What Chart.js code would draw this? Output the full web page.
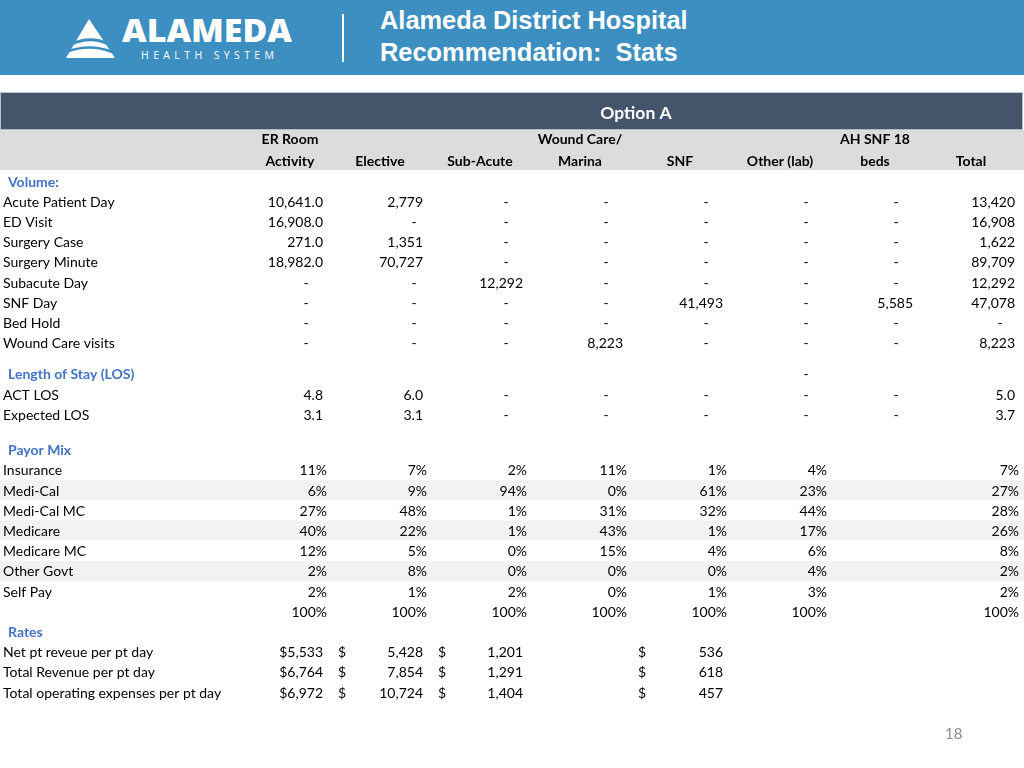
<!DOCTYPE html>
<html>
<head>
<meta charset="utf-8">
<script src="https://cdn.jsdelivr.net/npm/chart.js@4.4.1/dist/chart.umd.min.js"></script>
<style>
  html, body { margin: 0; padding: 0; background: #fff; }
  body { width: 1024px; height: 768px; position: relative; overflow: hidden; }
  #sheet { position: absolute; left: 0; top: 0; }
  #top { position: absolute; left: 0; top: 0; }
  #page { position: absolute; left: 945px; top: 724px; font: 15px Lato, sans-serif; color: #8c8c8c; }
</style>
</head>
<body>
<canvas id="sheet" width="1024" height="768"></canvas>
<svg id="top" width="1024" height="76" xmlns="http://www.w3.org/2000/svg">
  <rect width="1024" height="75" fill="#3d8fc1"/>
  <path d="M89 19 L115 58 L66 58 Z" fill="#fff"/>
  <path d="M70 45 Q90 35 108 44" stroke="#3d8fc1" stroke-width="3" fill="none"/>
  <path d="M66 52 Q90 43 112 52" stroke="#3d8fc1" stroke-width="2.5" fill="none"/>
  <text x="122" y="42" font-family="Open Sans" font-weight="800" font-size="31" fill="#fff"
        textLength="170" lengthAdjust="spacingAndGlyphs">ALAMEDA</text>
  <text x="141" y="58.5" font-family="Open Sans" font-size="10.5" fill="#fff"
        textLength="133">HEALTH SYSTEM</text>
  <rect x="342" y="14" width="2" height="48" fill="#fff"/>
  <text x="380" y="29" font-family="Liberation Sans" font-weight="bold" font-size="25.4" fill="#fff">Alameda District Hospital</text>
  <text x="380" y="61" font-family="Liberation Sans" font-weight="bold" font-size="25.4" fill="#fff"
        style="white-space:pre">Recommendation:  Stats</text>
</svg>
<div id="page">18</div>
<script>
// ---- table values ----
const colHead1 = ['ER Room', '', '', 'Wound Care/', '', '', 'AH SNF 18', ''];
const colHead2 = ['Activity', 'Elective', 'Sub-Acute', 'Marina', 'SNF', 'Other (lab)', 'beds', 'Total'];

const volumeLabels = ['Acute Patient Day', 'ED Visit', 'Surgery Case', 'Surgery Minute',
  'Subacute Day', 'SNF Day', 'Bed Hold', 'Wound Care visits'];
const volumeValues = [
  [10641.0, 2779, 0, 0, 0, 0, 0, 13420],
  [16908.0, 0, 0, 0, 0, 0, 0, 16908],
  [271.0, 1351, 0, 0, 0, 0, 0, 1622],
  [18982.0, 70727, 0, 0, 0, 0, 0, 89709],
  [0, 0, 12292, 0, 0, 0, 0, 12292],
  [0, 0, 0, 0, 41493, 0, 5585, 47078],
  [0, 0, 0, 0, 0, 0, 0, 0],
  [0, 0, 0, 8223, 0, 0, 0, 8223],
];

const losHeadValues = [null, null, null, null, null, 0, null, null];
const losLabels = ['ACT LOS', 'Expected LOS'];
const losValues = [
  [4.8, 6.0, 0, 0, 0, 0, 0, 5.0],
  [3.1, 3.1, 0, 0, 0, 0, 0, 3.7],
];

const payorLabels = ['Insurance', 'Medi-Cal', 'Medi-Cal MC', 'Medicare', 'Medicare MC', 'Other Govt', 'Self Pay'];
const payorValues = [
  [11, 7, 2, 11, 1, 4, null, 7],
  [6, 9, 94, 0, 61, 23, null, 27],
  [27, 48, 1, 31, 32, 44, null, 28],
  [40, 22, 1, 43, 1, 17, null, 26],
  [12, 5, 0, 15, 4, 6, null, 8],
  [2, 8, 0, 0, 0, 4, null, 2],
  [2, 1, 2, 0, 1, 3, null, 2],
];
const payorTotals = [100, 100, 100, 100, 100, 100, null, 100];

const rateLabels = ['Net pt reveue per pt day', 'Total Revenue per pt day', 'Total operating expenses per pt day'];
const rateValues = [
  [5533, 5428, 1201, null, 536, null, null, null],
  [6764, 7854, 1291, null, 618, null, null, null],
  [6972, 10724, 1404, null, 457, null, null, null],
];

// ---- layout (sheet geometry, px) ----
const ROW_PITCH = 20.2, FIRST_ROW_PX = 181;
const LABEL_W = 250;
const COL_W = [80, 100, 100, 100, 100, 100, 90, 102];
const DASH_PAD = [24, 16, 24, 24, 24, 24, 24, 22];
const TEXT_DY = 1; // Lato sits a touch high with 'middle' baseline
const FONT = 'Lato, "Open Sans", sans-serif';
const BLUE = '#4472c4';

const colLeft = [], colRight = [];
COL_W.reduce((acc, w) => { colLeft.push(acc); colRight.push(acc + w); return acc + w; }, LABEL_W);

const fmt0 = v => v.toLocaleString('en-US', { maximumFractionDigits: 0 });
const fmt1 = v => v.toLocaleString('en-US', { minimumFractionDigits: 1, maximumFractionDigits: 1 });

const rows = [];
let pos = 0;
function addRow(label, heading, cells, stripe) {
  rows.push({ pos, label, heading, cells, stripe: !!stripe });
  pos += 1;
}
const dash = { k: 'dash' };

addRow('Volume:', true, null);
volumeValues.forEach((vals, i) => addRow(volumeLabels[i], false,
  vals.map((v, c) => v === 0 ? dash : { k: 'num', t: c === 0 ? fmt1(v) : fmt0(v) })));

pos += 0.55;
addRow('Length of Stay (LOS)', true, losHeadValues.map(v => v === 0 ? dash : null));
losValues.forEach((vals, i) => addRow(losLabels[i], false,
  vals.map(v => v === 0 ? dash : { k: 'num', t: v.toFixed(1) })));

pos += 0.75;
addRow('Payor Mix', true, null);
payorValues.forEach((vals, i) => addRow(payorLabels[i], false,
  vals.map(v => v === null ? null : { k: 'pct', t: v + '%' }), i % 2 === 1));
addRow('', false, payorTotals.map(v => v === null ? null : { k: 'pct', t: v + '%' }));

addRow('Rates', true, null);
rateValues.forEach((vals, i) => addRow(rateLabels[i], false,
  vals.map((v, c) => v === null ? null : (c === 0 ? { k: 'num', t: '$' + fmt0(v) } : { k: 'cur', t: fmt0(v) }))));

// header band positions in row units
const DARK_TOP = -4.36, DARK_BOT = -2.52, LIGHT_BOT = -0.54;
const OPTION_ROW = -3.42, HEAD1_ROW = -2.08, HEAD2_ROW = -1.04;

const datasets = colHead2.map((name, c) => ({
  label: name,
  data: rows.filter(r => r.cells && r.cells[c]).map(r => ({ x: colRight[c], y: r.pos, cell: r.cells[c] })),
  pointRadius: 0,
  pointHoverRadius: 0,
  showLine: false,
}));

const sheetPlugin = {
  id: 'sheet',
  beforeDatasetsDraw(chart) {
    const { ctx, scales: { x, y } } = chart;
    ctx.save();
    const x0 = x.getPixelForValue(0), xEnd = x.getPixelForValue(colRight[7]);
    // dark "Option A" band
    const dt = y.getPixelForValue(DARK_TOP), db = y.getPixelForValue(DARK_BOT);
    ctx.fillStyle = '#44546a';
    ctx.fillRect(x0 + 1, dt, xEnd - x0 - 1, db - dt);
    ctx.strokeStyle = '#b8c2d2';
    ctx.lineWidth = 1;
    ctx.strokeRect(x0 + 0.5, dt - 0.5, xEnd - x0, db - dt);
    // light column header band
    const lb = y.getPixelForValue(LIGHT_BOT);
    ctx.fillStyle = '#dcdcdc';
    ctx.fillRect(x0, db, x.getPixelForValue(1024) - x0, lb - db);
    // striped rows
    ctx.fillStyle = '#f2f2f2';
    rows.filter(r => r.stripe).forEach(r => {
      const a = y.getPixelForValue(r.pos - 0.5), b = y.getPixelForValue(r.pos + 0.5);
      ctx.fillRect(x0, a, x.getPixelForValue(1024) - x0, b - a);
    });
    ctx.restore();
  },
  afterDatasetsDraw(chart) {
    const { ctx, scales: { x, y } } = chart;
    const yp = v => y.getPixelForValue(v) + TEXT_DY;
    ctx.save();
    ctx.textBaseline = 'middle';

    // header texts
    ctx.fillStyle = '#fff';
    ctx.font = 'bold 17.5px ' + FONT;
    ctx.textAlign = 'center';
    ctx.fillText('Option A', (x.getPixelForValue(LABEL_W) + x.getPixelForValue(colRight[7])) / 2, yp(OPTION_ROW));
    ctx.fillStyle = '#000';
    ctx.font = 'bold 14px ' + FONT;
    colHead2.forEach((h, c) => {
      const cx = (x.getPixelForValue(colLeft[c]) + x.getPixelForValue(colRight[c])) / 2;
      if (colHead1[c]) ctx.fillText(colHead1[c], cx, yp(HEAD1_ROW));
      ctx.fillText(h, cx, yp(HEAD2_ROW));
    });

    // row labels
    ctx.textAlign = 'left';
    rows.forEach(r => {
      if (!r.label) return;
      ctx.font = (r.heading ? 'bold ' : '') + '14px ' + FONT;
      ctx.fillStyle = r.heading ? BLUE : '#000';
      ctx.fillText(r.label, x.getPixelForValue(r.heading ? 8 : 3), yp(r.pos));
    });

    // cells
    ctx.font = '14px ' + FONT;
    ctx.fillStyle = '#000';
    chart.data.datasets.forEach((ds, c) => {
      const meta = chart.getDatasetMeta(c);
      meta.data.forEach((el, j) => {
        const cell = ds.data[j].cell;
        const px = el.x, py = el.y + TEXT_DY;
        if (cell.k === 'dash') {
          ctx.textAlign = 'center';
          ctx.fillText('-', px - DASH_PAD[c], py);
        } else if (cell.k === 'pct') {
          ctx.textAlign = 'right';
          ctx.fillText(cell.t, px - 3, py);
        } else if (cell.k === 'cur') {
          ctx.textAlign = 'left';
          ctx.fillText('$', x.getPixelForValue(colLeft[c]) + 8, py);
          ctx.textAlign = 'right';
          ctx.fillText(cell.t, px - 7, py);
        } else {
          ctx.textAlign = 'right';
          ctx.fillText(cell.t, px - 7, py);
        }
      });
    });
    ctx.restore();
  }
};

new Chart(document.getElementById('sheet').getContext('2d'), {
  type: 'scatter',
  data: { datasets },
  options: {
    responsive: false,
    animation: false,
    events: [],
    layout: { padding: 0 },
    plugins: { legend: { display: false }, tooltip: { enabled: false } },
    scales: {
      x: { type: 'linear', display: false, min: 0, max: 1024 },
      y: {
        type: 'linear', display: false, reverse: true,
        min: -FIRST_ROW_PX / ROW_PITCH,
        max: (768 - FIRST_ROW_PX) / ROW_PITCH,
      },
    },
  },
  plugins: [sheetPlugin],
});
</script>
</body>
</html>
